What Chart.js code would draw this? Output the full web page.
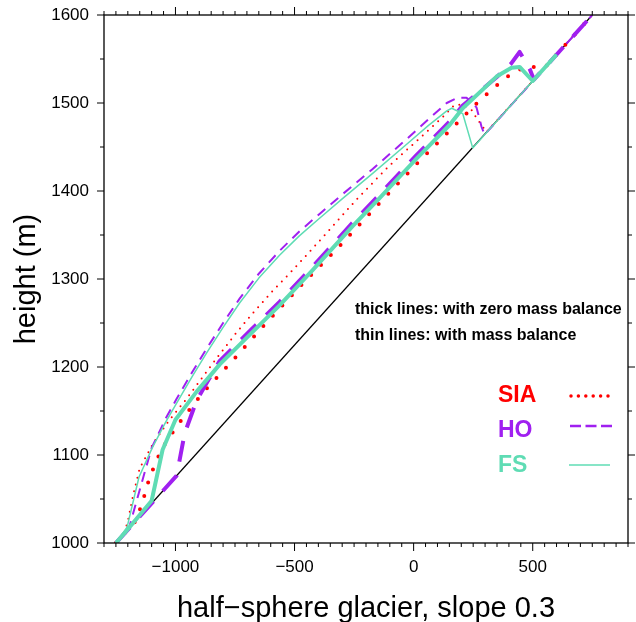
<!DOCTYPE html>
<html>
<head>
<meta charset="utf-8">
<script src="https://cdn.jsdelivr.net/npm/chart.js@4"></script>
<style>
html, body { margin: 0; padding: 0; background: #fff; }
</style>
</head>
<body>
<canvas id="canvasGlacier" width="636" height="622"></canvas>
<script>
// graduations des axes
const xTicks = [-1000, -500, 0, 500]
const yTicks = [1000, 1100, 1200, 1300, 1400, 1500, 1600]
const xMin = -1300, xMax = 900, yMin = 1000, yMax = 1600

// lit rocheux (pente 0.3)
const bedX = [-1250, 750]
const bedY = [1000, 1600]

// traits épais : bilan de masse nul
const siaEpaisX = [-1250, -1170, -1142, -1108, -1058, -991, -911, -877, -751, -626, -458, -323, -155, 17, 105, 193, 277, 374, 424, 480, 537, 550, 750]
const siaEpaisY = [1000, 1024, 1043, 1075, 1107, 1134, 1162, 1173, 1210, 1248, 1297, 1334, 1383, 1432, 1456, 1480, 1503, 1526, 1536, 1541, 1541, 1540, 1600]
const hoEpaisX = [-1250, -995, -961, -911, -860, -814, -676, -563, -424, -256, -143, 13, 151, 206, 347, 410, 445, 487, 505, 750]
const hoEpaisY = [1000, 1076.5, 1125, 1162, 1186, 1207, 1244, 1274, 1314, 1364, 1396, 1441, 1479, 1497, 1529, 1545, 1558, 1539, 1526.5, 1600]
const fsEpaisX = [-1250, -1205, -1100, -1054, -1000, -911, -814, -676, -563, -424, -256, -143, 13, 151, 206, 348, 411, 445, 500, 600]
const fsEpaisY = [1000, 1014, 1048, 1106, 1140, 1172, 1203, 1240, 1270, 1310, 1360, 1392, 1437, 1475, 1494, 1530, 1540, 1541, 1525, 1555]

// traits fins : avec bilan de masse
const siaFinX = [-1250, -1215, -1199, -1178, -1150, -1096, -1030, -953, -890, -827, -750, -676, -590, -508, -430, -353, -241, -101, 38, 122, 172, 206, 243, 264, 285, 306, 750]
const siaFinY = [1000, 1011, 1026, 1054, 1085, 1112, 1138, 1164, 1187, 1210, 1237, 1261, 1287, 1310, 1333, 1356, 1390, 1429, 1463, 1484, 1498, 1498, 1492, 1483, 1475, 1467, 1600]
const hoFinX = [-1250, -1195, -1140, -1100, -1040, -995, -930, -869, -800, -730, -650, -563, -480, -395, -300, -172, -17, 60, 139, 185, 222, 264, 285, 298, 750]
const hoFinY = [1000, 1017, 1070, 1108, 1142, 1164, 1194, 1221, 1250, 1278, 1306, 1332, 1354, 1374, 1396, 1425, 1462, 1481, 1500, 1506, 1506, 1495, 1473, 1464, 1600]
const fsFinX = [-1250, -1203, -1153, -1096, -1040, -995, -930, -869, -800, -730, -650, -563, -480, -395, -300, -172, -17, 60, 139, 160, 206, 248, 600]
const fsFinY = [1000, 1018, 1075, 1109, 1138, 1159, 1189, 1216, 1245, 1273, 1301, 1327, 1349, 1369, 1391, 1420, 1456, 1474, 1491, 1494, 1488, 1449, 1555]

const couleurSIA = "#ff0000"
const couleurHO = "#a020f0"
const couleurFS = "#5fdcb4"
const police = "'Liberation Sans', Arial, Helvetica, sans-serif"

function points(xs, ys) {
    return xs.map((x, i) => ({x: x, y: ys[i]}))
}

function moins(v) {
    return v < 0 ? "\u2212" + (-v) : String(v)
}

// cadre, graduations, titres et légende
const decor = {
    id: 'decor',
    afterDatasetsDraw(chart) {
        let ctx = chart.ctx
        let a = chart.chartArea
        let sx = chart.scales.x
        let sy = chart.scales.y
        ctx.save()
        ctx.strokeStyle = "black"
        ctx.lineWidth = 1.3
        ctx.strokeRect(a.left, a.top, a.right - a.left, a.bottom - a.top)
        ctx.lineWidth = 1
        ctx.beginPath()
        for (let v = xMin; v <= xMax; v += 50) {
            let px = sx.getPixelForValue(v)
            let l = v % 500 == 0 ? 8 : 4
            ctx.moveTo(px, a.bottom); ctx.lineTo(px, a.bottom + l)
            ctx.moveTo(px, a.top); ctx.lineTo(px, a.top - l)
        }
        for (let v = yMin; v <= yMax; v += 50) {
            let py = sy.getPixelForValue(v)
            let l = v % 100 == 0 ? 7 : 4
            ctx.moveTo(a.left, py); ctx.lineTo(a.left - l, py)
            ctx.moveTo(a.right, py); ctx.lineTo(a.right + l, py)
        }
        ctx.stroke()

        // titres des axes
        ctx.fillStyle = "black"
        ctx.font = "29px " + police
        ctx.textAlign = "center"
        ctx.textBaseline = "alphabetic"
        ctx.fillText("half\u2212sphere glacier, slope 0.3", (a.left + a.right) / 2, 617)
        ctx.save()
        ctx.translate(35, (a.top + a.bottom) / 2)
        ctx.rotate(-Math.PI / 2)
        ctx.fillText("height (m)", 0, 0)
        ctx.restore()

        // légende
        ctx.textAlign = "left"
        ctx.font = "bold 16px " + police
        ctx.fillText("thick lines: with zero mass balance", 355, 314)
        ctx.fillText("thin lines: with mass balance", 355, 340)
        ctx.font = "bold 23px " + police
        ctx.fillStyle = couleurSIA
        ctx.fillText("SIA", 498, 402)
        ctx.fillStyle = couleurHO
        ctx.fillText("HO", 498, 437)
        ctx.fillStyle = couleurFS
        ctx.fillText("FS", 498, 472)

        ctx.lineCap = "round"
        ctx.strokeStyle = couleurSIA
        ctx.lineWidth = 3.5
        ctx.setLineDash([0, 7.4])
        ctx.beginPath(); ctx.moveTo(571, 396); ctx.lineTo(609, 396); ctx.stroke()
        ctx.lineCap = "butt"
        ctx.strokeStyle = couleurHO
        ctx.lineWidth = 2.5
        ctx.setLineDash([11, 4.5])
        ctx.beginPath(); ctx.moveTo(570, 426); ctx.lineTo(612, 426); ctx.stroke()
        ctx.setLineDash([])
        ctx.strokeStyle = couleurFS
        ctx.lineWidth = 1.5
        ctx.beginPath(); ctx.moveTo(569, 465); ctx.lineTo(610, 465); ctx.stroke()
        ctx.restore()
    }
}

function serie(label, xs, ys, couleur, largeur, tirets, bout, ordre) {
    return {
        label: label,
        data: points(xs, ys),
        showLine: true,
        borderColor: couleur,
        backgroundColor: couleur,
        borderWidth: largeur,
        borderDash: tirets,
        borderCapStyle: bout,
        borderJoinStyle: "round",
        pointRadius: 0,
        tension: 0,
        order: ordre
    }
}

let canvas = document.getElementById("canvasGlacier")
new Chart(canvas, {
    type: 'scatter',
    data: {
        datasets: [
            serie("FS thick", fsEpaisX, fsEpaisY, couleurFS, 4, [], "butt", 0),
            serie("FS thin", fsFinX, fsFinY, couleurFS, 1.5, [], "butt", 1),
            serie("HO thick", hoEpaisX, hoEpaisY, couleurHO, 4, [21, 14], "butt", 2),
            serie("HO thin", hoFinX, hoFinY, couleurHO, 2, [10, 7], "butt", 3),
            serie("SIA thick", siaEpaisX, siaEpaisY, couleurSIA, 4, [0, 14], "round", 4),
            serie("SIA thin", siaFinX, siaFinY, couleurSIA, 2, [0, 7], "round", 5),
            serie("bed", bedX, bedY, "black", 1.3, [], "butt", 6)
        ]
    },
    options: {
        responsive: false,
        animation: false,
        devicePixelRatio: 1,
        layout: {padding: {top: 15, right: 8, left: 0, bottom: 0}},
        scales: {
            x: {
                type: 'linear',
                min: xMin,
                max: xMax,
                afterBuildTicks: function(scale) {
                    scale.ticks = xTicks.map(v => ({value: v}))
                },
                afterFit: function(scale) {
                    scale.height = 79
                    scale.paddingLeft = 0
                    scale.paddingRight = 0
                },
                grid: {display: false, drawTicks: false},
                border: {display: false},
                ticks: {
                    color: "black",
                    padding: 14,
                    maxRotation: 0,
                    font: {family: police, size: 17},
                    callback: function(value) { return moins(value) }
                }
            },
            y: {
                type: 'linear',
                min: yMin,
                max: yMax,
                afterBuildTicks: function(scale) {
                    scale.ticks = yTicks.map(v => ({value: v}))
                },
                afterFit: function(scale) {
                    scale.width = 104
                    scale.paddingTop = 0
                    scale.paddingBottom = 0
                },
                grid: {display: false, drawTicks: false},
                border: {display: false},
                ticks: {
                    color: "black",
                    padding: 15,
                    font: {family: police, size: 17},
                    callback: function(value) { return moins(value) }
                }
            }
        },
        plugins: {
            legend: {display: false},
            tooltip: {enabled: false}
        }
    },
    plugins: [decor]
})
</script>
</body>
</html>
